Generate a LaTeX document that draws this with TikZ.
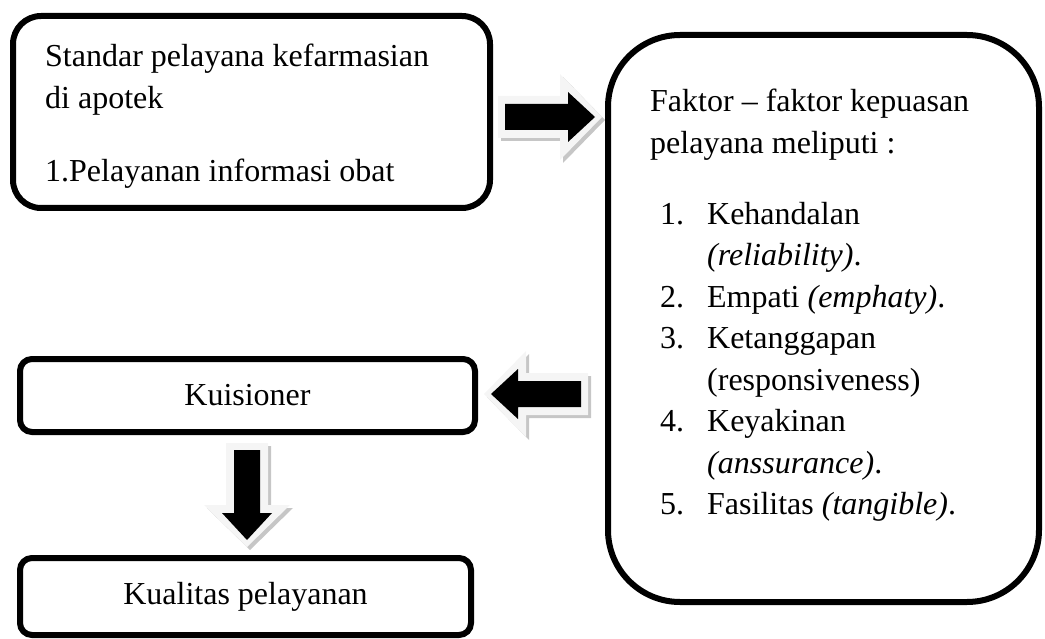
\documentclass[tikz,border=0pt]{standalone}
\usepackage{fontspec}
\setmainfont{Liberation Serif}
\usetikzlibrary{positioning}

\tikzset{
	box/.style={draw, line width=6pt, inner sep=0pt, font=\fontsize{32}{41.5}\selectfont},
	lbl/.style={inner sep=0pt, font=\fontsize{32}{41.5}\selectfont},
	arrowlight/.style={fill=gray!8},
	arrowshade/.style={fill=gray!45},
}

\newcommand{\fatarrow}[2]{%
	\begin{scope}[shift={#1}]
		\fill[arrowshade, shift={(3,3)}, rotate=#2] (0,-21) -- (62,-21) -- (62,-43) -- (104,0) -- (62,43) -- (62,21) -- (0,21) -- cycle;
		\fill[arrowlight, rotate=#2] (0,-21) -- (62,-21) -- (62,-43) -- (104,0) -- (62,43) -- (62,21) -- (0,21) -- cycle;
		\fill[black, rotate=#2] (7,-13) -- (70,-13) -- (70,-25) -- (97,0) -- (70,25) -- (70,13) -- (7,13) -- cycle;
	\end{scope}}

\begin{document}
\begin{tikzpicture}[x=1pt, y=-1pt]
		\useasboundingbox (0,0) rectangle (1045,639);
		\fatarrow{(498,117)}{0}
		\fatarrow{(588,394)}{180}
		\fatarrow{(247,443)}{-90}
		\node[box, rounded corners=28pt, minimum width=477pt, minimum height=192pt] (std) at (251.5,112) {};
		\node[lbl, anchor=base west] (stdtxt) at (45,67) {\begin{tabular}[t]{@{}l@{}}
			Standar pelayana kefarmasian\\
			di apotek\\[32pt]
			1.Pelayanan informasi obat
		\end{tabular}};
		\node[box, rounded corners=72pt, minimum width=431pt, minimum height=567pt] (fak) at (823.5,318.5) {};
		\node[lbl, anchor=base west] (faktxt) at (650,112) {\begin{tabular}[t]{@{\hspace{10pt}}l@{\hspace{23pt}}l@{}}
			\multicolumn{2}{@{}l@{}}{Faktor – faktor kepuasan}\\
			\multicolumn{2}{@{}l@{}}{pelayana meliputi :}\\[29.5pt]
			1. & Kehandalan\\
			   & \textit{(reliability)}.\\
			2. & Empati \textit{(emphaty)}.\\
			3. & Ketanggapan\\
			   & (responsiveness)\\
			4. & Keyakinan\\
			   & \textit{(anssurance)}.\\
			5. & Fasilitas \textit{(tangible)}.
		\end{tabular}};
		\node[box, rounded corners=12pt, minimum width=455pt, minimum height=73pt] (kuis) at (247.5,395.5) {Kuisioner};
		\node[box, rounded corners=12pt, minimum width=451pt, minimum height=77pt] (kual) at (245.5,596.5) {Kualitas pelayanan};
\end{tikzpicture}
\end{document}
